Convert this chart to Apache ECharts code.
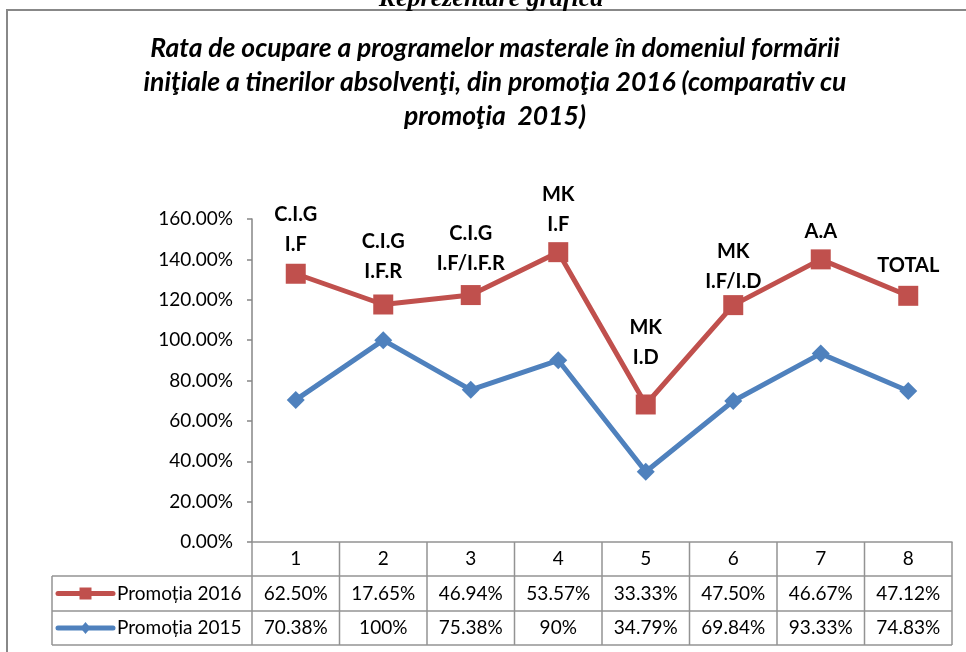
<!DOCTYPE html>
<html>
<head>
<meta charset="utf-8">
<script src="https://cdn.jsdelivr.net/npm/echarts@6/dist/echarts.min.js"></script>
<style>
html,body{margin:0;padding:0;background:#fff;}
#c{width:966px;height:652px;}
</style>
</head>
<body>
<div id="c"></div>
<script>
const categories = ['1', '2', '3', '4', '5', '6', '7', '8'];
const promotia2016 = [62.50, 17.65, 46.94, 53.57, 33.33, 47.50, 46.67, 47.12];
const promotia2015 = [70.38, 100, 75.38, 90, 34.79, 69.84, 93.33, 74.83];
const pointLabels = ['C.I.G\nI.F', 'C.I.G\nI.F.R', 'C.I.G\nI.F/I.F.R', 'MK\nI.F', 'MK\nI.D', 'MK\nI.F/I.D', 'A.A', 'TOTAL'];
const seriesNames = ['Promoția 2016', 'Promoția 2015'];
const yMin = 0, yMax = 160, yStep = 20;
const titleText = 'Rata de ocupare a programelor masterale în domeniul formării\niniţiale a tinerilor absolvenţi, din promoţia 2016 (comparativ cu\npromoţia  2015)';
const headerText = 'Reprezentare grafică';

// layout (not data)
const labelDist = [4, 8, 7, 3, 22, -1, 3, 5];
const RED = '#C0504D', BLUE = '#4F81BD', GRID = '#939393';
const FONT = 'Lato, "Open Sans", sans-serif';
const FS = 19;

function fmt(v) { return (Number.isInteger(v) ? String(v) : v.toFixed(2)) + '%'; }

const chart = echarts.init(document.getElementById('c'), null, {renderer: 'canvas'});
chart.setOption({
  backgroundColor: '#fff',
  animation: false,
  title: {
    text: titleText,
    left: 490, textAlign: 'center', top: 26,
    textStyle: {fontFamily: FONT, fontSize: 26.5, fontWeight: 'bold', fontStyle: 'italic', color: '#000', lineHeight: 34}
  },
  grid: {left: 252, right: 14, top: 219, bottom: 110, containLabel: false},
  xAxis: {
    type: 'category', data: categories, boundaryGap: true,
    axisLine: {show: true, lineStyle: {color: GRID, width: 1.5}},
    axisTick: {show: false},
    axisLabel: {margin: 7, fontFamily: FONT, fontSize: FS, color: '#000'},
    splitLine: {show: false}
  },
  yAxis: {
    type: 'value', min: yMin, max: yMax, interval: yStep,
    axisLine: {show: true, lineStyle: {color: '#868686', width: 1.5}},
    axisTick: {show: true, inside: false, length: 5, lineStyle: {color: '#868686', width: 1.5}},
    axisLabel: {margin: 19, fontFamily: FONT, fontSize: FS, color: '#000', formatter: v => v.toFixed(2) + '%'},
    splitLine: {show: false}
  },
  series: [
    {
      name: seriesNames[1], type: 'line', stack: 'total', data: promotia2015,
      symbol: 'diamond', symbolSize: 18,
      lineStyle: {color: BLUE, width: 5}, itemStyle: {color: BLUE}, z: 2
    },
    {
      name: seriesNames[0], type: 'line', stack: 'total',
      data: promotia2016.map((v, i) => ({value: v, label: {distance: labelDist[i]}})),
      symbol: 'rect', symbolSize: 20,
      lineStyle: {color: RED, width: 5}, itemStyle: {color: RED}, z: 3,
      label: {
        show: true, position: 'top',
        formatter: p => pointLabels[p.dataIndex],
        fontFamily: FONT, fontSize: 20, fontWeight: 'bold', color: '#000', lineHeight: 30, align: 'center'
      }
    }
  ]
});

// data table under the plot, positioned from the axis scales
const centers = categories.map(c => chart.convertToPixel({xAxisIndex: 0}, c));
const colW = centers[1] - centers[0];
const xL = centers[0] - colW / 2, xR = centers[centers.length - 1] + colW / 2;
const y0 = chart.convertToPixel({yAxisIndex: 0}, yMin);
const r1 = y0 + 34, r2 = r1 + 35, r3 = r2 + 34;
const tableLeft = 52;
const g = [];
function line(x1, y1, x2, y2, stroke, w, cap) {
  g.push({type: 'line', silent: true, shape: {x1, y1, x2, y2}, style: {stroke: stroke || GRID, lineWidth: w || 1.5, lineCap: cap || 'butt'}, z: 10});
}
function text(t, x, y, opts) {
  g.push(Object.assign({type: 'text', silent: true, x, y, z: 11,
    style: Object.assign({text: t, fill: '#000', font: FS + 'px ' + FONT, align: 'center', verticalAlign: 'middle', textAlign: 'center', textVerticalAlign: 'middle'}, (opts || {}))}));
}
// horizontal lines
line(tableLeft, r1, xR, r1);
line(tableLeft, r2, xR, r2);
line(tableLeft, r3, xR, r3);
// vertical lines
line(tableLeft, r1, tableLeft, r3);
for (let k = 0; k <= categories.length; k++) {
  const x = xL + k * colW;
  line(x, y0, x, r3);
}
// values
const rows = [promotia2016, promotia2015];
const rowY = [(r1 + r2) / 2, (r2 + r3) / 2];
rows.forEach((arr, ri) => {
  arr.forEach((v, i) => text(fmt(v), centers[i], rowY[ri]));
});
// legend keys
line(58, rowY[0], 113, rowY[0], RED, 5, 'round');
g.push({type: 'rect', silent: true, z: 12, shape: {x: 85.5 - 6, y: rowY[0] - 6, width: 12, height: 12}, style: {fill: RED}});
line(58, rowY[1], 113, rowY[1], BLUE, 5, 'round');
g.push({type: 'polygon', silent: true, z: 12, shape: {points: [[85.5, rowY[1] - 6], [90.5, rowY[1]], [85.5, rowY[1] + 6], [80.5, rowY[1]]]}, style: {fill: BLUE}});
text(seriesNames[0], 117, rowY[0], {align: 'left', textAlign: 'left'});
text(seriesNames[1], 117, rowY[1], {align: 'left', textAlign: 'left'});
// outer frame and page header
g.push({type: 'rect', silent: true, z: 1, shape: {x: 7, y: 10, width: 1000, height: 700}, style: {fill: 'none', stroke: '#888', lineWidth: 2}});
text(headerText, 491, 12, {font: 'italic bold 26px "Liberation Serif", "DejaVu Serif", serif', verticalAlign: 'bottom', textVerticalAlign: 'bottom'});

chart.setOption({graphic: g});
</script>
</body>
</html>
